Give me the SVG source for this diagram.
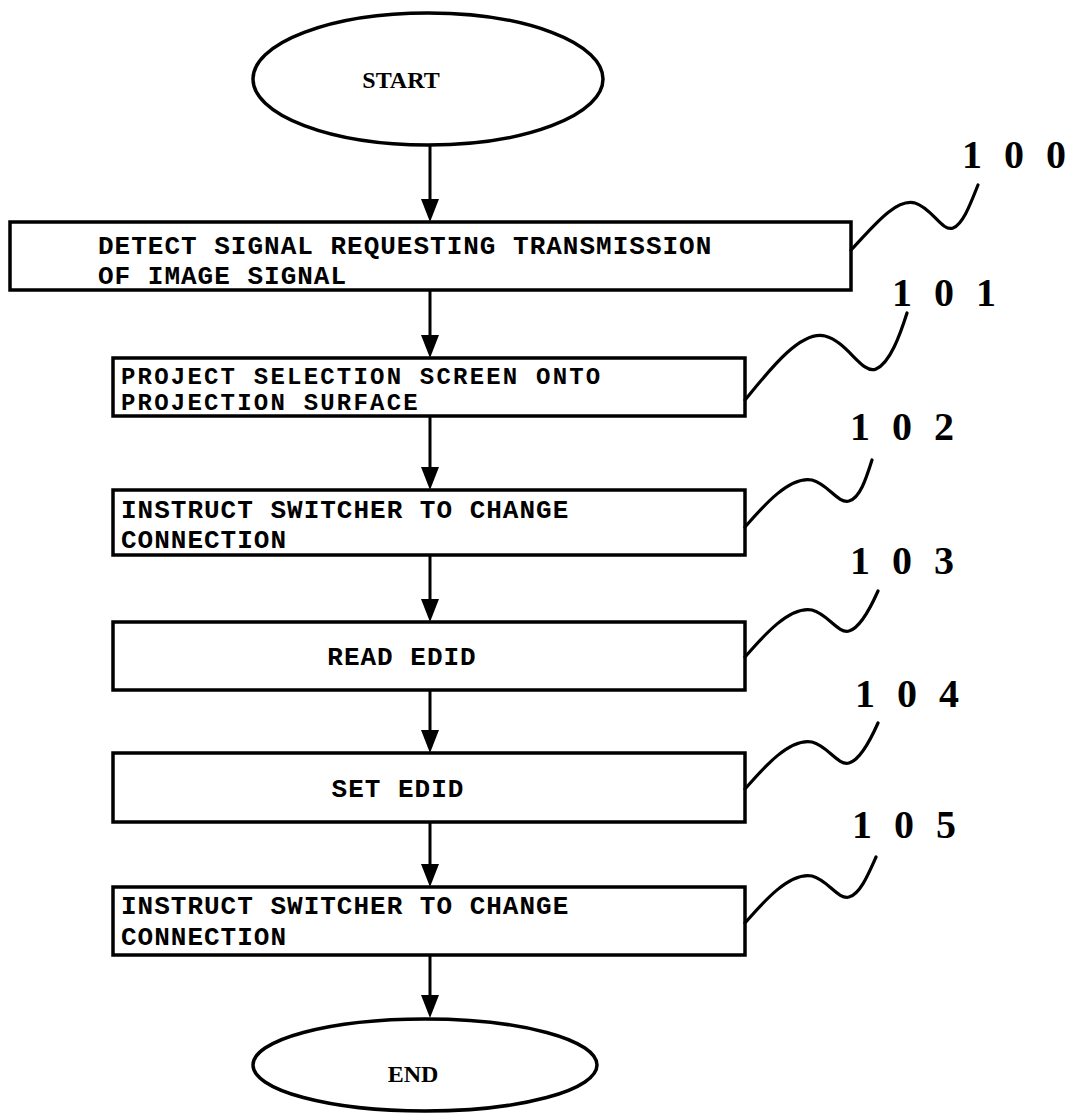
<svg xmlns="http://www.w3.org/2000/svg" width="1071" height="1114" viewBox="0 0 1071 1114">
<style>
.box{fill:#fff;stroke:#000;stroke-width:3.5}
.ell{fill:#fff;stroke:#000;stroke-width:3.5}
.t{font-family:"Liberation Mono",monospace;font-weight:bold;font-size:26px;letter-spacing:1px;fill:#000}
.t2{font-family:"Liberation Mono",monospace;font-weight:bold;font-size:24px;letter-spacing:2.2px;fill:#000}
.e{font-family:"Liberation Serif",serif;font-weight:bold;font-size:24px;fill:#000}
.lbl{font-family:"Liberation Serif",serif;font-weight:bold;font-size:40px;fill:#000}
.sq{fill:none;stroke:#000;stroke-width:3.2;stroke-linecap:round}
.con{stroke:#000;stroke-width:3;fill:none}
.ah{fill:#000}
</style>
<g id="connectors">
<path class="con" d="M430,145 V200"/><path class="ah" d="M421,199 L439,199 L430,222 Z"/>
<path class="con" d="M430,290 V336"/><path class="ah" d="M421,335 L439,335 L430,358 Z"/>
<path class="con" d="M430,416 V468"/><path class="ah" d="M421,467 L439,467 L430,490 Z"/>
<path class="con" d="M430,555 V600"/><path class="ah" d="M421,599 L439,599 L430,622 Z"/>
<path class="con" d="M430,690 V731"/><path class="ah" d="M421,730 L439,730 L430,753 Z"/>
<path class="con" d="M430,822 V865"/><path class="ah" d="M421,864 L439,864 L430,887 Z"/>
<path class="con" d="M430,955 V996"/><path class="ah" d="M421,995 L439,995 L430,1018 Z"/>
</g>
<g id="start"><ellipse class="ell" cx="428" cy="79" rx="175" ry="66"/><text class="e" x="401" y="88" text-anchor="middle">START</text></g>
<g id="n100">
<rect class="box" x="10" y="222" width="841" height="68"/>
<text class="t"><tspan x="98" y="254">DETECT SIGNAL REQUESTING TRANSMISSION</tspan><tspan x="98" y="284">OF IMAGE SIGNAL</tspan></text>
<path class="sq" d="M851,250 C872,228 895,198 915,203 C932,208 942,232 953,228 C963,224 970,205 978,185"/>
<text class="lbl" x="962 1004 1046" y="168">100</text>
</g>
<g id="n101">
<rect class="box" x="113" y="358" width="632" height="58"/>
<text class="t2"><tspan x="121" y="384">PROJECT SELECTION SCREEN ONTO</tspan><tspan x="121" y="410">PROJECTION SURFACE</tspan></text>
<path class="sq" d="M745,400 C768,372 800,330 825,336 C848,342 862,375 876,369 C890,363 900,335 907,313"/>
<text class="lbl" x="892 934 976" y="306">101</text>
</g>
<g id="n102">
<rect class="box" x="113" y="490" width="632" height="65"/>
<text class="t"><tspan x="121" y="518">INSTRUCT SWITCHER TO CHANGE</tspan><tspan x="121" y="548">CONNECTION</tspan></text>
<path class="sq" d="M745,527 C765,504 790,476 812,480 C828,484 838,504 849,501 C860,498 866,479 872,460"/>
<text class="lbl" x="850 892 934" y="440">102</text>
</g>
<g id="n103">
<rect class="box" x="113" y="622" width="632" height="68"/>
<text class="t" x="402" y="665" text-anchor="middle">READ EDID</text>
<path class="sq" d="M745,657 C765,634 790,606 812,610 C828,614 838,634 849,631 C860,628 870,609 878,591"/>
<text class="lbl" x="850 892 934" y="574">103</text>
</g>
<g id="n104">
<rect class="box" x="113" y="753" width="632" height="69"/>
<text class="t" x="398" y="797" text-anchor="middle">SET EDID</text>
<path class="sq" d="M745,789 C765,766 790,738 812,742 C828,746 838,766 849,763 C860,760 870,741 878,723"/>
<text class="lbl" x="855 897 939" y="707">104</text>
</g>
<g id="n105">
<rect class="box" x="113" y="887" width="632" height="68"/>
<text class="t"><tspan x="121" y="914">INSTRUCT SWITCHER TO CHANGE</tspan><tspan x="121" y="945">CONNECTION</tspan></text>
<path class="sq" d="M745,923 C765,900 790,872 812,876 C828,880 838,900 849,897 C860,894 868,875 876,857"/>
<text class="lbl" x="852 894 936" y="838">105</text>
</g>
<g id="end"><ellipse class="ell" cx="425" cy="1065" rx="172" ry="46"/><text class="e" x="413" y="1082" text-anchor="middle">END</text></g>
</svg>
